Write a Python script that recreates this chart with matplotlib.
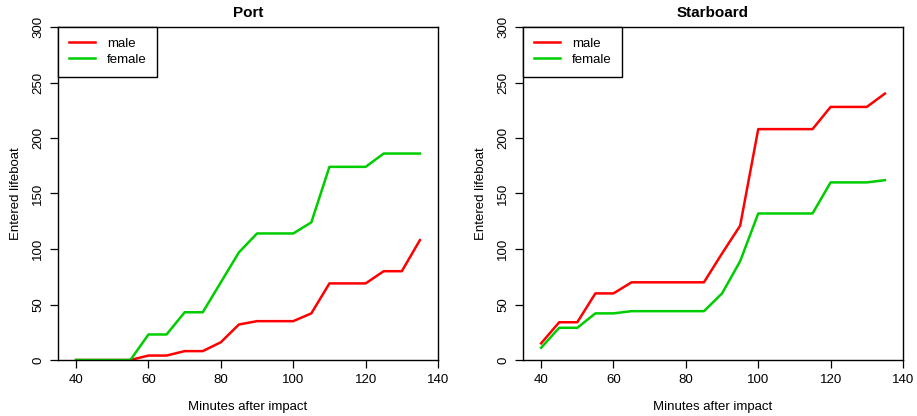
import matplotlib.pyplot as plt

plt.rcParams['font.family'] = ['Liberation Sans', 'DejaVu Sans']

# minutes after impact (5 minute steps)
minutes = [40, 45, 50, 55, 60, 65, 70, 75, 80, 85, 90, 95, 100, 105, 110, 115, 120, 125, 130, 135]

# Port side
port_male = [0, 0, 0, 0, 4, 4, 8, 8, 16, 32, 35, 35, 35, 42, 69, 69, 69, 80, 80, 108]
port_female = [0, 0, 0, 0, 23, 23, 43, 43, 70, 97, 114, 114, 114, 124, 174, 174, 174, 186, 186, 186]

# Starboard side
star_male = [15, 34, 34, 60, 60, 70, 70, 70, 70, 70, 96, 121, 208, 208, 208, 208, 228, 228, 228, 240]
star_female = [11, 29, 29, 42, 42, 44, 44, 44, 44, 44, 60, 89, 132, 132, 132, 132, 160, 160, 160, 162]

titles = ["Port", "Starboard"]
xticks = [40, 60, 80, 100, 120, 140]
yticks = [0, 50, 100, 150, 200, 250, 300]

fig = plt.figure(figsize=(9.17, 4.16), dpi=100)
ax1 = fig.add_axes([58 / 917, 1 - 360 / 416, 380 / 917, 333 / 416])
ax2 = fig.add_axes([523 / 917, 1 - 360 / 416, 380 / 917, 333 / 416])

for ax, title, male, female in [(ax1, titles[0], port_male, port_female),
                                (ax2, titles[1], star_male, star_female)]:
    ax.plot(minutes, male, color="#FF0000", lw=1.8, label="male")
    ax.plot(minutes, female, color="#00CD00", lw=1.8, label="female")
    ax.set_xlim(35, 140)
    ax.set_ylim(0, 300)
    ax.set_xticks(xticks)
    ax.set_yticks(yticks)
    ax.set_yticklabels([str(v) for v in yticks], rotation=90, va="center")
    ax.tick_params(labelsize=9.5, length=6, width=0.9, pad=4)
    for s in ax.spines.values():
        s.set_linewidth(1)
    ax.set_title(title, fontsize=11, fontweight="bold", pad=7)
    ax.set_xlabel("Minutes after impact", fontsize=9.5, labelpad=11)
    ax.set_ylabel("Entered lifeboat", fontsize=9.5, labelpad=7)
    leg = ax.legend(loc="upper left", borderaxespad=0, fancybox=False,
                    edgecolor="black", framealpha=1, fontsize=9.5,
                    handlelength=2.0, handletextpad=0.9, borderpad=0.8,
                    labelspacing=0.3)
    leg.get_frame().set_linewidth(1)

plt.savefig("out.png", dpi=100)
